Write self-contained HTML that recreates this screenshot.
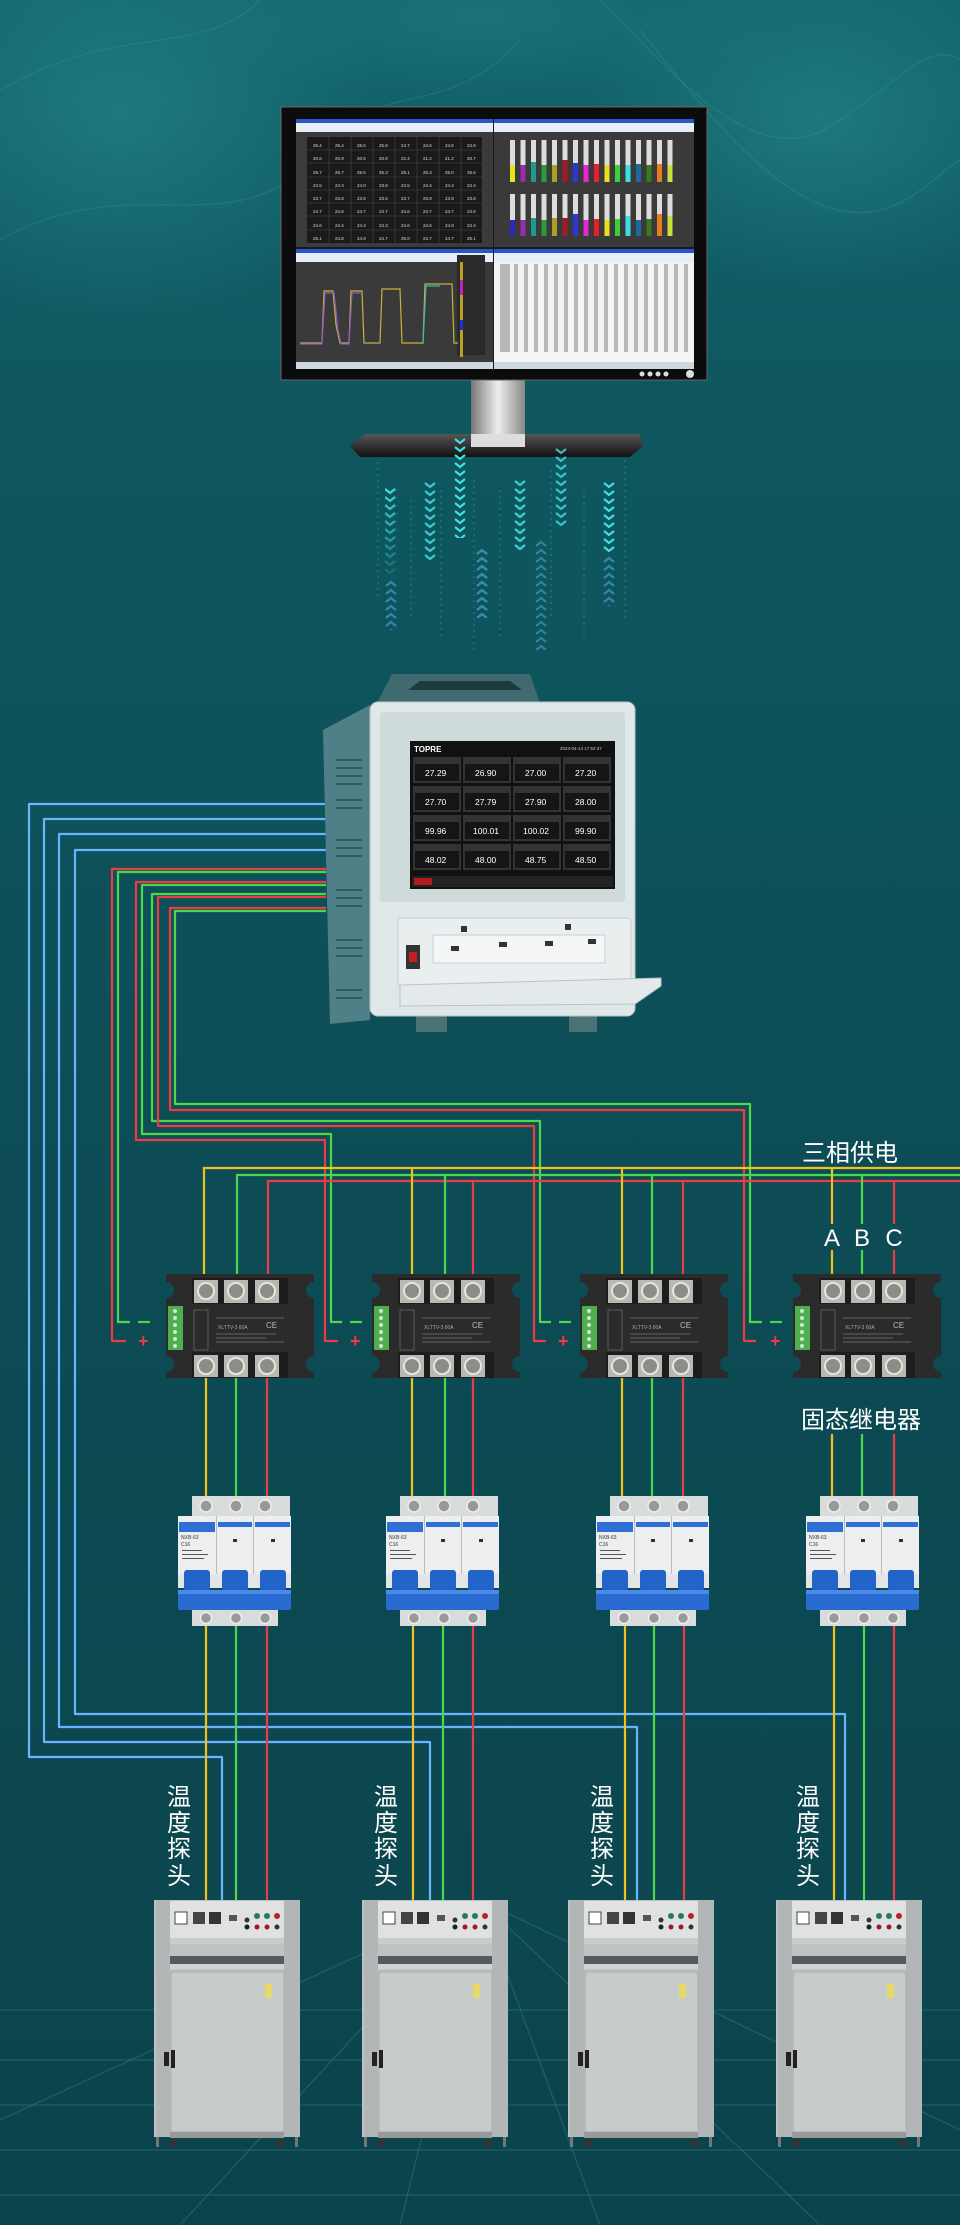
<!DOCTYPE html>
<html><head><meta charset="utf-8">
<style>
html,body{margin:0;padding:0;background:#0c4750;}
svg{display:block;}
text{font-family:"Liberation Sans","Noto Sans CJK SC",sans-serif;}
</style></head>
<body>
<svg width="960" height="2225" viewBox="0 0 960 2225" xmlns="http://www.w3.org/2000/svg">
<defs>
<linearGradient id="bg" x1="0" y1="0" x2="0" y2="1">
<stop offset="0" stop-color="#13656d"/>
<stop offset="0.15" stop-color="#0f5961"/>
<stop offset="0.5" stop-color="#0d4d56"/>
<stop offset="1" stop-color="#0b434b"/>
</linearGradient>
<radialGradient id="wl" cx="0.5" cy="0.5" r="0.5">
<stop offset="0" stop-color="#2a8a90" stop-opacity="0.55"/>
<stop offset="1" stop-color="#2a8a90" stop-opacity="0"/>
</radialGradient>
<linearGradient id="neck" x1="0" x2="1"><stop offset="0" stop-color="#777"/><stop offset="0.5" stop-color="#eee"/><stop offset="1" stop-color="#888"/></linearGradient>
<linearGradient id="base" x1="0" y1="0" x2="0" y2="1"><stop offset="0" stop-color="#555"/><stop offset="1" stop-color="#111"/></linearGradient>
<pattern id="chev" width="12" height="8" patternUnits="userSpaceOnUse"><polyline points="1,1 6,5 11,1" fill="none" stroke="#3fe0e0" stroke-width="2.2"/></pattern>
<pattern id="chevu" width="12" height="8" patternUnits="userSpaceOnUse"><polyline points="1,6 6,2 11,6" fill="none" stroke="#4aa8d8" stroke-width="2.2"/></pattern>
<linearGradient id="fade" x1="0" y1="0" x2="0" y2="1"><stop offset="0" stop-color="#fff" stop-opacity="1"/><stop offset="1" stop-color="#fff" stop-opacity="0.15"/></linearGradient>
<mask id="fm" maskContentUnits="objectBoundingBox"><rect width="1" height="1" fill="url(#fade)"/></mask>

<g id="relay">
<path d="M0,0 H148 V8 A8,8 0 0 0 148,24 V82 A8,8 0 0 0 148,98 V104 H0 V98 A8,8 0 0 0 0,82 V24 A8,8 0 0 0 0,8 Z" fill="#2b2b2c"/>
<rect x="26" y="4" width="96" height="26" fill="#1d1d1e"/>
<rect x="28" y="6" width="24" height="23" fill="#b9b9b4"/><circle cx="40" cy="17" r="8" fill="#8d8d88" stroke="#e6e6e0" stroke-width="2"/>
<rect x="58" y="6" width="24" height="23" fill="#b9b9b4"/><circle cx="70" cy="17" r="8" fill="#8d8d88" stroke="#e6e6e0" stroke-width="2"/>
<rect x="89" y="6" width="24" height="23" fill="#b9b9b4"/><circle cx="101" cy="17" r="8" fill="#8d8d88" stroke="#e6e6e0" stroke-width="2"/>
<rect x="26" y="78" width="96" height="26" fill="#1d1d1e"/>
<rect x="28" y="81" width="24" height="22" fill="#b9b9b4"/><circle cx="40" cy="92" r="8" fill="#8d8d88" stroke="#e6e6e0" stroke-width="2"/>
<rect x="58" y="81" width="24" height="22" fill="#b9b9b4"/><circle cx="70" cy="92" r="8" fill="#8d8d88" stroke="#e6e6e0" stroke-width="2"/>
<rect x="89" y="81" width="24" height="22" fill="#b9b9b4"/><circle cx="101" cy="92" r="8" fill="#8d8d88" stroke="#e6e6e0" stroke-width="2"/>
<rect x="2" y="32" width="15" height="44" fill="#4fae4f"/>
<g fill="#cfe8cf"><circle cx="9" cy="37" r="2"/><circle cx="9" cy="44" r="2"/><circle cx="9" cy="51" r="2"/><circle cx="9" cy="58" r="2"/><circle cx="9" cy="65" r="2"/><circle cx="9" cy="72" r="2"/></g>
<rect x="28" y="36" width="14" height="40" fill="none" stroke="#666" stroke-width="0.8"/>
<g stroke="#777" stroke-width="0.8"><line x1="50" y1="44" x2="118" y2="44"/><line x1="50" y1="68" x2="118" y2="68"/><line x1="50" y1="60" x2="110" y2="60"/><line x1="50" y1="64" x2="100" y2="64"/></g>
<text x="52" y="55" font-size="5" fill="#aaa">XLTTV-3 60A</text>
<text x="100" y="54" font-size="8" fill="#bbb">CE</text>
</g>

<g id="breaker">
<rect x="14" y="0" width="98" height="20" fill="#d9dcdd"/>
<circle cx="28" cy="10" r="6" fill="#999" stroke="#eee" stroke-width="1.5"/>
<circle cx="58" cy="10" r="6" fill="#999" stroke="#eee" stroke-width="1.5"/>
<circle cx="87" cy="10" r="6" fill="#999" stroke="#eee" stroke-width="1.5"/>
<rect x="0" y="20" width="113" height="58" fill="#eceeef"/>
<rect x="1" y="26" width="36" height="10" fill="#2f6fd6"/>
<rect x="40" y="26" width="34" height="5" fill="#2f6fd6"/>
<rect x="77" y="26" width="35" height="5" fill="#2f6fd6"/>
<line x1="38.5" y1="20" x2="38.5" y2="80" stroke="#bbb"/><line x1="75.5" y1="20" x2="75.5" y2="80" stroke="#bbb"/>
<text x="3" y="43" font-size="5" fill="#333">NXB-63</text><text x="3" y="50" font-size="5" fill="#333">C16</text>
<g fill="#555"><rect x="4" y="54" width="20" height="1"/><rect x="4" y="58" width="26" height="1"/><rect x="4" y="62" width="22" height="1"/></g>
<rect x="55" y="43" width="4" height="3" fill="#333"/><rect x="93" y="43" width="4" height="3" fill="#333"/>
<rect x="0" y="78" width="113" height="14" fill="#e3e6e8"/>
<rect x="6" y="74" width="26" height="22" rx="3" fill="#2364c8"/>
<rect x="44" y="74" width="26" height="22" rx="3" fill="#2364c8"/>
<rect x="82" y="74" width="26" height="22" rx="3" fill="#2364c8"/>
<rect x="0" y="94" width="113" height="20" rx="2" fill="#2a6bd2"/>
<rect x="0" y="94" width="113" height="4" fill="#4b8ae6"/>
<rect x="14" y="114" width="86" height="16" fill="#d9dcdd"/>
<circle cx="28" cy="122" r="5.5" fill="#999" stroke="#eee" stroke-width="1.5"/>
<circle cx="58" cy="122" r="5.5" fill="#999" stroke="#eee" stroke-width="1.5"/>
<circle cx="87" cy="122" r="5.5" fill="#999" stroke="#eee" stroke-width="1.5"/>
</g>

<g id="oven">
<rect x="0" y="0" width="146" height="237" fill="#bfc2c3"/>
<rect x="2" y="0" width="14" height="237" fill="#b3b6b7"/>
<rect x="130" y="0" width="16" height="237" fill="#b3b6b7"/>
<rect x="16" y="1" width="114" height="42" fill="#dfe1e2"/>
<rect x="16" y="38" width="114" height="6" fill="#c9cccd"/>
<rect x="21" y="12" width="12" height="12" fill="#fff" stroke="#444"/>
<rect x="39" y="12" width="12" height="12" fill="#444"/>
<rect x="55" y="12" width="12" height="12" fill="#333"/>
<rect x="75" y="15" width="8" height="6" fill="#555"/>
<circle cx="93" cy="20" r="2.5" fill="#333"/><circle cx="103" cy="16" r="3" fill="#2a7a5a"/><circle cx="113" cy="16" r="3" fill="#2a7a5a"/><circle cx="123" cy="16" r="3" fill="#c0202e"/>
<circle cx="93" cy="27" r="2.5" fill="#222"/><circle cx="103" cy="27" r="2.5" fill="#a01828"/><circle cx="113" cy="27" r="2.5" fill="#a01828"/><circle cx="123" cy="27" r="2.5" fill="#333"/>
<rect x="16" y="56" width="114" height="8" fill="#555a5c"/>
<rect x="16" y="64" width="114" height="5" fill="#d0d3d4"/>
<rect x="17" y="72" width="113" height="160" fill="#c8cbcc" stroke="#a9acad"/>
<rect x="111" y="84" width="7" height="14" fill="#e8d86a"/>
<rect x="10" y="152" width="5" height="14" fill="#222"/><rect x="17" y="150" width="4" height="18" fill="#222"/>
<rect x="16" y="232" width="114" height="6" fill="#999"/>
<circle cx="20" cy="243" r="4" fill="#333"/><circle cx="126" cy="243" r="4" fill="#333"/>
<rect x="2" y="237" width="3" height="10" fill="#777"/><rect x="141" y="237" width="3" height="10" fill="#777"/>
</g>
</defs>

<!-- background -->
<rect width="960" height="2225" fill="url(#bg)"/>
<ellipse cx="120" cy="110" rx="260" ry="220" fill="url(#wl)"/>
<ellipse cx="820" cy="120" rx="240" ry="170" fill="url(#wl)"/>
<ellipse cx="480" cy="20" rx="300" ry="80" fill="url(#wl)" opacity="0.6"/>
<g fill="none" stroke="#3a9aa0" stroke-opacity="0.25" stroke-width="1.5">
<path d="M0,90 C120,20 200,60 260,0"/><path d="M0,240 C140,160 240,260 330,140 C380,80 450,120 520,40"/>
<path d="M600,0 C680,80 760,180 840,120 C900,80 930,40 960,60"/><path d="M640,30 C720,130 800,230 880,210 C920,200 940,170 960,160"/>
</g>
<!-- floor grid -->
<g stroke="#2a7a80" stroke-opacity="0.45" stroke-width="1.5" fill="none">
<line x1="0" y1="2010" x2="960" y2="2010"/><line x1="0" y1="2060" x2="960" y2="2060"/>
<line x1="0" y1="2105" x2="960" y2="2105"/><line x1="0" y1="2150" x2="960" y2="2150"/>
<line x1="0" y1="2195" x2="960" y2="2195"/>
<line x1="480" y1="1900" x2="0" y2="2120"/><line x1="480" y1="1900" x2="180" y2="2225"/>
<line x1="480" y1="1900" x2="400" y2="2225"/><line x1="480" y1="1900" x2="600" y2="2225"/>
<line x1="480" y1="1900" x2="820" y2="2225"/><line x1="480" y1="1900" x2="960" y2="2130"/>
</g>

<!-- monitor -->
<rect x="471" y="380" width="54" height="56" fill="url(#neck)"/>
<path d="M365,434 L640,434 L643,446 L630,457 L360,457 L350,446 Z" fill="url(#base)"/>
<rect x="471" y="434" width="54" height="13" fill="#ddd"/>
<rect x="281" y="107" width="426" height="273" fill="#0c0c0c" stroke="#666" stroke-width="1"/>
<rect x="296" y="119" width="398" height="250" fill="#1a1a1a"/>
<!-- TL -->
<rect x="296" y="119" width="197" height="4" fill="#2a56c6"/><rect x="296" y="123" width="197" height="9" fill="#e8eef8"/>
<rect x="296" y="132" width="197" height="115" fill="#3b3b3b"/>
<rect x="307" y="137" width="175" height="106" fill="#1a1a1a"/>
<g stroke="#3c3c3c" stroke-width="0.8">
<line x1="329" y1="137" x2="329" y2="243"/><line x1="351" y1="137" x2="351" y2="243"/><line x1="373" y1="137" x2="373" y2="243"/><line x1="395" y1="137" x2="395" y2="243"/><line x1="417" y1="137" x2="417" y2="243"/><line x1="439" y1="137" x2="439" y2="243"/><line x1="461" y1="137" x2="461" y2="243"/>
<line x1="307" y1="150" x2="482" y2="150"/><line x1="307" y1="163" x2="482" y2="163"/><line x1="307" y1="177" x2="482" y2="177"/><line x1="307" y1="190" x2="482" y2="190"/><line x1="307" y1="203" x2="482" y2="203"/><line x1="307" y1="216" x2="482" y2="216"/><line x1="307" y1="230" x2="482" y2="230"/>
</g>
<g font-size="4.5" fill="#ddd">
<text x="313" y="147">25.4</text><text x="335" y="147">25.4</text><text x="357" y="147">25.6</text><text x="379" y="147">25.6</text><text x="401" y="147">24.7</text><text x="423" y="147">24.6</text><text x="445" y="147">24.6</text><text x="467" y="147">24.5</text>
<text x="313" y="160">20.6</text><text x="335" y="160">20.9</text><text x="357" y="160">20.6</text><text x="379" y="160">20.9</text><text x="401" y="160">22.4</text><text x="423" y="160">21.2</text><text x="445" y="160">21.2</text><text x="467" y="160">20.7</text>
<text x="313" y="174">25.7</text><text x="335" y="174">25.7</text><text x="357" y="174">25.5</text><text x="379" y="174">25.3</text><text x="401" y="174">25.1</text><text x="423" y="174">25.3</text><text x="445" y="174">25.0</text><text x="467" y="174">26.6</text>
<text x="313" y="187">24.5</text><text x="335" y="187">24.3</text><text x="357" y="187">24.0</text><text x="379" y="187">23.6</text><text x="401" y="187">24.5</text><text x="423" y="187">24.4</text><text x="445" y="187">24.4</text><text x="467" y="187">24.4</text>
<text x="313" y="200">23.7</text><text x="335" y="200">23.8</text><text x="357" y="200">23.6</text><text x="379" y="200">23.6</text><text x="401" y="200">23.7</text><text x="423" y="200">23.9</text><text x="445" y="200">23.8</text><text x="467" y="200">23.8</text>
<text x="313" y="213">24.7</text><text x="335" y="213">24.6</text><text x="357" y="213">24.7</text><text x="379" y="213">24.7</text><text x="401" y="213">24.6</text><text x="423" y="213">24.7</text><text x="445" y="213">24.7</text><text x="467" y="213">24.6</text>
<text x="313" y="227">24.6</text><text x="335" y="227">24.4</text><text x="357" y="227">24.4</text><text x="379" y="227">24.3</text><text x="401" y="227">24.6</text><text x="423" y="227">24.6</text><text x="445" y="227">24.8</text><text x="467" y="227">24.4</text>
<text x="313" y="240">25.1</text><text x="335" y="240">24.8</text><text x="357" y="240">24.9</text><text x="379" y="240">24.7</text><text x="401" y="240">25.0</text><text x="423" y="240">24.7</text><text x="445" y="240">24.7</text><text x="467" y="240">25.1</text>
</g>
<!-- TR -->
<rect x="494" y="119" width="200" height="4" fill="#2a56c6"/><rect x="494" y="123" width="200" height="9" fill="#e8eef8"/>
<rect x="494" y="132" width="200" height="115" fill="#3a3a3a"/>
<g>
<rect x="510" y="140" width="5" height="42" fill="#ddd"/><rect x="510" y="165" width="5" height="17" fill="#e3e61e"/>
<rect x="520.5" y="140" width="5" height="42" fill="#ddd"/><rect x="520.5" y="165" width="5" height="17" fill="#9a2ab0"/>
<rect x="531" y="140" width="5" height="42" fill="#ddd"/><rect x="531" y="162" width="5" height="20" fill="#1c9a8c"/>
<rect x="541.5" y="140" width="5" height="42" fill="#ddd"/><rect x="541.5" y="165" width="5" height="17" fill="#2a9a3a"/>
<rect x="552" y="140" width="5" height="42" fill="#ddd"/><rect x="552" y="165" width="5" height="17" fill="#a8a020"/>
<rect x="562.5" y="140" width="5" height="42" fill="#ddd"/><rect x="562.5" y="160" width="5" height="22" fill="#a01c24"/>
<rect x="573" y="140" width="5" height="42" fill="#ddd"/><rect x="573" y="163" width="5" height="19" fill="#2a3ad0"/>
<rect x="583.5" y="140" width="5" height="42" fill="#ddd"/><rect x="583.5" y="165" width="5" height="17" fill="#e22ad0"/>
<rect x="594" y="140" width="5" height="42" fill="#ddd"/><rect x="594" y="164" width="5" height="18" fill="#e8202c"/>
<rect x="604.5" y="140" width="5" height="42" fill="#ddd"/><rect x="604.5" y="165" width="5" height="17" fill="#e6e020"/>
<rect x="615" y="140" width="5" height="42" fill="#ddd"/><rect x="615" y="165" width="5" height="17" fill="#3ad03a"/>
<rect x="625.5" y="140" width="5" height="42" fill="#ddd"/><rect x="625.5" y="165" width="5" height="17" fill="#3ae0e6"/>
<rect x="636" y="140" width="5" height="42" fill="#ddd"/><rect x="636" y="164" width="5" height="18" fill="#1c6aa0"/>
<rect x="646.5" y="140" width="5" height="42" fill="#ddd"/><rect x="646.5" y="165" width="5" height="17" fill="#3a7a1c"/>
<rect x="657" y="140" width="5" height="42" fill="#ddd"/><rect x="657" y="164" width="5" height="18" fill="#e87a20"/>
<rect x="667.5" y="140" width="5" height="42" fill="#ddd"/><rect x="667.5" y="165" width="5" height="17" fill="#c8e040"/>
</g>
<g>
<rect x="510" y="194" width="5" height="42" fill="#ddd"/><rect x="510" y="220" width="5" height="16" fill="#2a2ab0"/>
<rect x="520.5" y="194" width="5" height="42" fill="#ddd"/><rect x="520.5" y="220" width="5" height="16" fill="#9a2ab0"/>
<rect x="531" y="194" width="5" height="42" fill="#ddd"/><rect x="531" y="218" width="5" height="18" fill="#1c9a8c"/>
<rect x="541.5" y="194" width="5" height="42" fill="#ddd"/><rect x="541.5" y="220" width="5" height="16" fill="#2a9a3a"/>
<rect x="552" y="194" width="5" height="42" fill="#ddd"/><rect x="552" y="218" width="5" height="18" fill="#a8a020"/>
<rect x="562.5" y="194" width="5" height="42" fill="#ddd"/><rect x="562.5" y="218" width="5" height="18" fill="#a01c24"/>
<rect x="573" y="194" width="5" height="42" fill="#ddd"/><rect x="573" y="214" width="5" height="22" fill="#2a3ad0"/>
<rect x="583.5" y="194" width="5" height="42" fill="#ddd"/><rect x="583.5" y="220" width="5" height="16" fill="#e22ad0"/>
<rect x="594" y="194" width="5" height="42" fill="#ddd"/><rect x="594" y="219" width="5" height="17" fill="#e8202c"/>
<rect x="604.5" y="194" width="5" height="42" fill="#ddd"/><rect x="604.5" y="220" width="5" height="16" fill="#e6e020"/>
<rect x="615" y="194" width="5" height="42" fill="#ddd"/><rect x="615" y="219" width="5" height="17" fill="#3ad03a"/>
<rect x="625.5" y="194" width="5" height="42" fill="#ddd"/><rect x="625.5" y="216" width="5" height="20" fill="#3ae0e6"/>
<rect x="636" y="194" width="5" height="42" fill="#ddd"/><rect x="636" y="220" width="5" height="16" fill="#1c6aa0"/>
<rect x="646.5" y="194" width="5" height="42" fill="#ddd"/><rect x="646.5" y="219" width="5" height="17" fill="#3a7a1c"/>
<rect x="657" y="194" width="5" height="42" fill="#ddd"/><rect x="657" y="214" width="5" height="22" fill="#e87a20"/>
<rect x="667.5" y="194" width="5" height="42" fill="#ddd"/><rect x="667.5" y="216" width="5" height="20" fill="#c8e040"/>
</g>
<!-- BL -->
<rect x="296" y="249" width="197" height="4" fill="#2a56c6"/><rect x="296" y="253" width="197" height="9" fill="#e8eef8"/>
<rect x="296" y="262" width="197" height="102" fill="#3a3a3a"/>
<rect x="457" y="255" width="28" height="100" fill="#2a2a2a"/>
<g fill="none" stroke-width="1.2">
<path d="M300,343 H322 L324,291 H333 L336,325 L340,343 H349 L351,291 H362 L364,343 H380 L382,289 H400 L402,343 H423 L425,284 H452 L454,343 H458" stroke="#c8b040"/>
<path d="M300,344 H322 L325,293 H334 L338,330 L341,344 H349 L352,293 H362" stroke="#8a5ac0"/>
<path d="M423,344 L426,286 H440" stroke="#3ab0c0"/>
</g>
<g><rect x="460" y="262" width="3" height="95" fill="#e0c020" opacity="0.8"/><rect x="460" y="280" width="3" height="15" fill="#c020c0"/><rect x="460" y="320" width="3" height="10" fill="#2030d0"/></g>
<rect x="296" y="362" width="197" height="7" fill="#cfd6e0"/>
<!-- BR -->
<rect x="494" y="249" width="200" height="4" fill="#2a56c6"/><rect x="494" y="253" width="200" height="9" fill="#e8eef8"/>
<rect x="494" y="262" width="200" height="102" fill="#f4f4f4"/>
<g fill="#b8b8b8">
<rect x="500" y="264" width="10" height="88"/><rect x="514" y="264" width="4" height="88"/><rect x="524" y="264" width="4" height="88"/><rect x="534" y="264" width="4" height="88"/><rect x="544" y="264" width="4" height="88"/><rect x="554" y="264" width="4" height="88"/><rect x="564" y="264" width="4" height="88"/><rect x="574" y="264" width="4" height="88"/><rect x="584" y="264" width="4" height="88"/><rect x="594" y="264" width="4" height="88"/><rect x="604" y="264" width="4" height="88"/><rect x="614" y="264" width="4" height="88"/><rect x="624" y="264" width="4" height="88"/><rect x="634" y="264" width="4" height="88"/><rect x="644" y="264" width="4" height="88"/><rect x="654" y="264" width="4" height="88"/><rect x="664" y="264" width="4" height="88"/><rect x="674" y="264" width="4" height="88"/><rect x="684" y="264" width="4" height="88"/>
</g>
<rect x="494" y="362" width="200" height="7" fill="#cfd6e0"/>
<g fill="#ddd"><circle cx="642" cy="374" r="2.5"/><circle cx="650" cy="374" r="2.5"/><circle cx="658" cy="374" r="2.5"/><circle cx="666" cy="374" r="2.5"/><circle cx="690" cy="374" r="4"/></g>

<!-- data chevrons -->
<g stroke="#3aa0a8" stroke-width="0.8" stroke-dasharray="2,4" opacity="0.7">
<line x1="378" y1="462" x2="378" y2="600"/><line x1="411" y1="500" x2="411" y2="620"/><line x1="441" y1="490" x2="441" y2="640"/><line x1="474" y1="480" x2="474" y2="650"/><line x1="500" y1="490" x2="500" y2="640"/><line x1="551" y1="470" x2="551" y2="620"/><line x1="584" y1="490" x2="584" y2="640"/><line x1="625" y1="460" x2="625" y2="620"/>
</g>
<g mask="url(#fm)"><rect x="385" y="487" width="12" height="88" fill="url(#chev)" transform="translate(0,0)"/></g>
<g transform="translate(424,482)"><rect width="12" height="80" fill="url(#chev)" opacity="0.85"/></g>
<g transform="translate(454,438)"><rect width="12" height="100" fill="url(#chev)"/></g>
<g transform="translate(476,548)"><rect width="12" height="70" fill="url(#chevu)" opacity="0.7"/></g>
<g transform="translate(514,480)"><rect width="12" height="72" fill="url(#chev)" opacity="0.9"/></g>
<g transform="translate(535,540)"><rect width="12" height="110" fill="url(#chevu)" opacity="0.55"/></g>
<g transform="translate(555,448)"><rect width="12" height="80" fill="url(#chev)" opacity="0.8"/></g>
<g transform="translate(603,482)"><rect width="12" height="70" fill="url(#chev)"/></g>
<g transform="translate(385,580)"><rect width="12" height="50" fill="url(#chevu)" opacity="0.6"/></g>
<g transform="translate(603,556)"><rect width="12" height="50" fill="url(#chevu)" opacity="0.6"/></g>

<!-- wires (blue) -->
<g fill="none" stroke="#6ab4ff" stroke-width="2.2" stroke-linejoin="round">
<path d="M326,804 H29 V1757 H222 V1900"/>
<path d="M326,819 H44 V1742 H430 V1900"/>
<path d="M326,834 H59 V1727 H637 V1900"/>
<path d="M326,850 H75 V1714 H845 V1900"/>
</g>
<!-- control wires -->
<g fill="none" stroke-width="2.2" stroke-linejoin="round">
<path d="M326,869 H112 V1341 H126" stroke="#ee3a42"/>
<path d="M326,872 H118 V1322 H130" stroke="#4bd84b"/>
<path d="M326,882 H136 V1140 H325 V1341 H338" stroke="#ee3a42"/>
<path d="M326,885 H142 V1134 H331 V1322 H342" stroke="#4bd84b"/>
<path d="M326,894 H152 V1121 H540 V1322 H551" stroke="#4bd84b"/>
<path d="M326,897 H158 V1126 H534 V1341 H546" stroke="#ee3a42"/>
<path d="M326,908 H170 V1110 H744 V1341 H756" stroke="#ee3a42"/>
<path d="M326,911 H175 V1104 H750 V1322 H762" stroke="#4bd84b"/>
</g>
<g stroke-width="2.2">
<line x1="138" y1="1322" x2="150" y2="1322" stroke="#4bd84b"/>
<line x1="350" y1="1322" x2="362" y2="1322" stroke="#4bd84b"/>
<line x1="559" y1="1322" x2="571" y2="1322" stroke="#4bd84b"/>
<line x1="770" y1="1322" x2="782" y2="1322" stroke="#4bd84b"/>
</g>
<g fill="#ee3a42" font-size="18" font-weight="bold">
<text x="138" y="1347">+</text><text x="350" y="1347">+</text><text x="558" y="1347">+</text><text x="770" y="1347">+</text>
</g>

<!-- three-phase bus -->
<g fill="none" stroke-width="2.2">
<path d="M204,1274 V1168 H960" stroke="#f2c21c"/>
<path d="M237,1274 V1175 H960" stroke="#4bd84b"/>
<path d="M268,1274 V1181 H960" stroke="#ee3a42"/>
<path d="M412,1168 V1274 M622,1168 V1274 M832,1168 V1224 M832,1250 V1274" stroke="#f2c21c"/>
<path d="M445,1175 V1274 M652,1175 V1274 M862,1175 V1224 M862,1250 V1274" stroke="#4bd84b"/>
<path d="M473,1181 V1274 M683,1181 V1274 M894,1181 V1224 M894,1250 V1274" stroke="#ee3a42"/>
<!-- relay to breaker -->
<path d="M206,1378 V1496 M412,1378 V1496 M622,1378 V1496 M832,1434 V1496" stroke="#f2c21c"/>
<path d="M236,1378 V1496 M445,1378 V1496 M652,1378 V1496 M862,1434 V1496" stroke="#4bd84b"/>
<path d="M267,1378 V1496 M473,1378 V1496 M683,1378 V1496 M894,1434 V1496" stroke="#ee3a42"/>
<path d="M832,1378 V1392 M862,1378 V1392 M894,1378 V1392" stroke="#888" stroke-width="0"/>
<!-- breaker to oven -->
<path d="M206,1626 V1900 M413,1626 V1900 M625,1626 V1900 M834,1626 V1900" stroke="#f2c21c"/>
<path d="M236,1626 V1900 M443,1626 V1900 M654,1626 V1900 M864,1626 V1900" stroke="#4bd84b"/>
<path d="M267,1626 V1900 M473,1626 V1900 M684,1626 V1900 M894,1626 V1900" stroke="#ee3a42"/>
</g>

<!-- recorder -->
<rect x="416" y="1004" width="31" height="28" fill="#4a7276"/>
<rect x="569" y="1004" width="28" height="28" fill="#4a7276"/>
<path d="M377,703 L392,674 L530,674 L540,703 Z" fill="#3e6a70"/>
<path d="M408,690 L420,681 L510,681 L522,690 Z" fill="#1f3a3e"/>
<path d="M323,730 L370,705 L370,1020 L330,1024 Z" fill="#4f8088"/>
<g stroke="#2e5a60" stroke-width="2">
<line x1="336" y1="760" x2="362" y2="760"/><line x1="336" y1="768" x2="362" y2="768"/><line x1="336" y1="776" x2="362" y2="776"/><line x1="336" y1="784" x2="362" y2="784"/><line x1="336" y1="800" x2="362" y2="800"/><line x1="336" y1="808" x2="362" y2="808"/><line x1="336" y1="840" x2="362" y2="840"/><line x1="336" y1="848" x2="362" y2="848"/><line x1="336" y1="856" x2="362" y2="856"/><line x1="336" y1="890" x2="362" y2="890"/><line x1="336" y1="898" x2="362" y2="898"/><line x1="336" y1="906" x2="362" y2="906"/><line x1="336" y1="940" x2="362" y2="940"/><line x1="336" y1="948" x2="362" y2="948"/><line x1="336" y1="956" x2="362" y2="956"/><line x1="336" y1="990" x2="362" y2="990"/><line x1="336" y1="998" x2="362" y2="998"/>
</g>
<rect x="370" y="702" width="265" height="314" rx="8" fill="#dfe7e8" stroke="#b9c6c8"/>
<rect x="380" y="712" width="245" height="190" rx="4" fill="#cfdadb"/>
<rect x="410" y="741" width="205" height="148" fill="#111"/>
<text x="414" y="752" font-size="8" font-weight="bold" fill="#fff">TOPRE</text>
<text x="560" y="750" font-size="4.5" fill="#ccc">2023-04-14  17:52:37</text>
<g fill="#333">
<rect x="413" y="757" width="48" height="26"/><rect x="463" y="757" width="48" height="26"/><rect x="513" y="757" width="48" height="26"/><rect x="563" y="757" width="48" height="26"/>
<rect x="413" y="786" width="48" height="26"/><rect x="463" y="786" width="48" height="26"/><rect x="513" y="786" width="48" height="26"/><rect x="563" y="786" width="48" height="26"/>
<rect x="413" y="815" width="48" height="26"/><rect x="463" y="815" width="48" height="26"/><rect x="513" y="815" width="48" height="26"/><rect x="563" y="815" width="48" height="26"/>
<rect x="413" y="844" width="48" height="26"/><rect x="463" y="844" width="48" height="26"/><rect x="513" y="844" width="48" height="26"/><rect x="563" y="844" width="48" height="26"/>
</g>
<g fill="#151515">
<rect x="415" y="764" width="44" height="17"/><rect x="465" y="764" width="44" height="17"/><rect x="515" y="764" width="44" height="17"/><rect x="565" y="764" width="44" height="17"/>
<rect x="415" y="793" width="44" height="17"/><rect x="465" y="793" width="44" height="17"/><rect x="515" y="793" width="44" height="17"/><rect x="565" y="793" width="44" height="17"/>
<rect x="415" y="822" width="44" height="17"/><rect x="465" y="822" width="44" height="17"/><rect x="515" y="822" width="44" height="17"/><rect x="565" y="822" width="44" height="17"/>
<rect x="415" y="851" width="44" height="17"/><rect x="465" y="851" width="44" height="17"/><rect x="515" y="851" width="44" height="17"/><rect x="565" y="851" width="44" height="17"/>
</g>
<g font-size="8.5" fill="#fff">
<text x="425" y="776">27.29</text><text x="475" y="776">26.90</text><text x="525" y="776">27.00</text><text x="575" y="776">27.20</text>
<text x="425" y="805">27.70</text><text x="475" y="805">27.79</text><text x="525" y="805">27.90</text><text x="575" y="805">28.00</text>
<text x="425" y="834">99.96</text><text x="473" y="834">100.01</text><text x="523" y="834">100.02</text><text x="575" y="834">99.90</text>
<text x="425" y="863">48.02</text><text x="475" y="863">48.00</text><text x="525" y="863">48.75</text><text x="575" y="863">48.50</text>
</g>
<rect x="412" y="876" width="201" height="11" fill="#222"/>
<rect x="414" y="878" width="18" height="7" fill="#b01c1c"/>
<rect x="398" y="918" width="233" height="68" rx="3" fill="#e9eeee" stroke="#c5cfd0"/>
<rect x="406" y="945" width="14" height="24" fill="#333"/><rect x="409" y="952" width="8" height="10" fill="#c02020"/>
<rect x="433" y="935" width="172" height="28" fill="#f4f6f6" stroke="#ccd"/>
<g fill="#333"><rect x="451" y="946" width="8" height="5"/><rect x="499" y="942" width="8" height="5"/><rect x="545" y="941" width="8" height="5"/><rect x="588" y="939" width="8" height="5"/><rect x="461" y="926" width="6" height="6"/><rect x="565" y="924" width="6" height="6"/></g>
<path d="M400,985 L661,978 L661,986 L635,1004 L400,1006 Z" fill="#e4eaeb" stroke="#b8c4c5"/>

<!-- relays -->
<use href="#relay" x="166" y="1274"/>
<use href="#relay" x="372" y="1274"/>
<use href="#relay" x="580" y="1274"/>
<use href="#relay" x="793" y="1274"/>

<!-- breakers -->
<use href="#breaker" x="178" y="1496"/>
<use href="#breaker" x="386" y="1496"/>
<use href="#breaker" x="596" y="1496"/>
<use href="#breaker" x="806" y="1496"/>

<!-- ovens -->
<use href="#oven" x="154" y="1900"/>
<use href="#oven" x="362" y="1900"/>
<use href="#oven" x="568" y="1900"/>
<use href="#oven" x="776" y="1900"/>

<!-- labels -->
<g fill="#fff" font-size="24">
<text x="802" y="1161">三相供电</text>
<text x="832" y="1246" text-anchor="middle">A</text>
<text x="862" y="1246" text-anchor="middle">B</text>
<text x="894" y="1246" text-anchor="middle">C</text>
<text x="801" y="1428">固态继电器</text>
</g>
<g fill="#fff" font-size="24">
<text x="167" y="1805">温</text><text x="167" y="1831">度</text><text x="167" y="1857">探</text><text x="167" y="1884">头</text>
<text x="374" y="1805">温</text><text x="374" y="1831">度</text><text x="374" y="1857">探</text><text x="374" y="1884">头</text>
<text x="590" y="1805">温</text><text x="590" y="1831">度</text><text x="590" y="1857">探</text><text x="590" y="1884">头</text>
<text x="796" y="1805">温</text><text x="796" y="1831">度</text><text x="796" y="1857">探</text><text x="796" y="1884">头</text>
</g>
</svg>
</body></html>
